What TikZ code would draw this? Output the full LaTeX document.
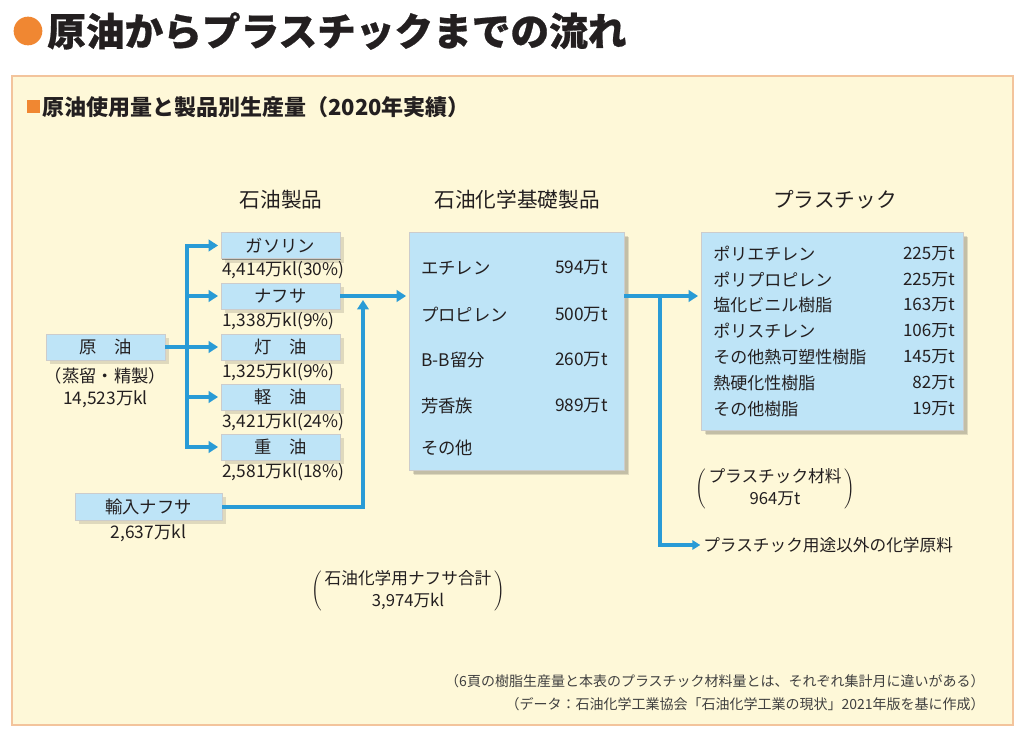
\documentclass[tikz,border=0pt]{standalone}
\usepackage{fontspec}
\setmainfont{Noto Sans CJK JP}
\usepackage{tikz}
\usetikzlibrary{arrows.meta,shapes,shadows,positioning}
\definecolor{panelbg}{HTML}{FEF8D8}
\definecolor{panelline}{HTML}{F3C49C}
\definecolor{boxblue}{HTML}{BEE4F7}
\definecolor{flowblue}{HTML}{299BD6}
\definecolor{mark}{HTML}{F08732}
\definecolor{ink}{HTML}{231F20}
\tikzstyle{pbox}=[rectangle,fill=boxblue,draw=black!20,line width=0.4pt,inner sep=0pt,
  minimum width=89.25pt,minimum height=19.5pt,font=\fontsize{13}{13}\selectfont,
  drop shadow={shadow xshift=3pt,shadow yshift=-3pt,fill=black,opacity=0.12},
  drop shadow={shadow xshift=1pt,shadow yshift=-1pt,fill=black!70,opacity=0.6}]
\tikzstyle{val}=[inner sep=1pt,font=\fontsize{13}{13}\selectfont]
\tikzstyle{item}=[inner sep=0pt,font=\fontsize{13}{13}\selectfont]
\tikzstyle{head}=[font=\fontsize{15.5}{15.5}\selectfont]
\tikzstyle{note}=[align=center,font=\fontsize{12.5}{16.5}\selectfont]
\tikzstyle{arr}=[draw=flowblue,line width=3pt,-{Triangle[length=7pt,width=8.5pt]},shorten >=2pt]
\tikzstyle{flow}=[draw=flowblue,line width=3pt]

\begin{document}
\begin{tikzpicture}[x=0.75pt,y=-0.75pt,text=ink]
    \useasboundingbox (0,0) rectangle (1026,742);
    % title
    \node[circle,fill=mark,minimum size=21.5pt,inner sep=0pt] (dot) at (28,31) {};
    \node[anchor=west,inner sep=0pt,font=\bfseries\fontsize{29}{29}\selectfont\addfontfeature{FakeBold=0.7}] (title) at (47,31) {原油からプラスチックまでの流れ};
    % panel
    \path[fill=panelbg,draw=panelline,line width=1.5pt] (12,76) rectangle (1013,725);
    \node[fill=mark,minimum size=9.75pt,inner sep=0pt] (sq) at (33.5,106.5) {};
    \node[anchor=west,inner sep=0pt,font=\bfseries\fontsize{16.5}{16.5}\selectfont] (sub) at (42,107) {原油使用量と製品別生産量（2020年実績）};
    % column heads
    \node[head] (h1) at (281,200) {石油製品};
    \node[head] (h2) at (517,200) {石油化学基礎製品};
    \node[head] (h3) at (835,200) {プラスチック};

    % crude oil and oil products
    \node[pbox] (genyu) at (105.5,347) {原　油};
    \node[note,anchor=north,font=\fontsize{13}{16.5}\selectfont] (genyuv) at ([yshift=-2pt]genyu.south) {（蒸留・精製）\\14,523万kl};
    \foreach \name/\ypos/\lab/\val in {{gas/245.5/ガソリン/4,414万kl(30\%)},
    {naf/296/ナフサ/1,338万kl(9\%)}, {toyu/347/灯　油/1,325万kl(9\%)},
    {keiyu/397/軽　油/3,421万kl(24\%)}, {juyu/447/重　油/2,581万kl(18\%)}}
    {
        \node[pbox] (\name) at (280.5,\ypos) {\lab};
        \node[val,anchor=north west] (\name v) at ([yshift=-1pt]\name.south west) {\val};
    }
    \node[pbox,minimum width=110.25pt,minimum height=20.25pt] (yunyu) at (148.5,506.5) {輸入ナフサ};
    \node[val,anchor=north] (yunyuv) at ([yshift=-2pt]yunyu.south) {2,637万kl};

    % basic chemicals
    \node[pbox,minimum width=161.25pt,minimum height=178.5pt,
      drop shadow={shadow xshift=4pt,shadow yshift=-4pt,fill=black,opacity=0.12}] (kiso) at (516.5,351) {};
    \foreach \ypos/\lab/\val in {268/エチレン/594万t, 315/プロピレン/500万t,
    360/B-B留分/260万t, 406/芳香族/989万t}
    {
        \node[item,anchor=west] (k\ypos) at (421,\ypos) {\lab};
        \node[item,anchor=east] (kv\ypos) at (608,\ypos) {\val};
    }
    \node[item,anchor=west] (kother) at (421,448) {その他};

    % plastics
    \node[pbox,minimum width=196.5pt,minimum height=148.5pt,
      drop shadow={shadow xshift=4pt,shadow yshift=-4pt,fill=black,opacity=0.12}] (plas) at (832,331) {};
    \foreach \ypos/\lab/\val in {254/ポリエチレン/225万t, 280/ポリプロピレン/225万t,
    305/塩化ビニル樹脂/163万t, 331/ポリスチレン/106万t, 357/その他熱可塑性樹脂/145万t,
    383/熱硬化性樹脂/82万t, 409/その他樹脂/19万t}
    {
        \node[item,anchor=west,font=\fontsize{12.75}{12.75}\selectfont] (p\ypos) at (713,\ypos) {\lab};
        \node[item,anchor=east,font=\fontsize{12.75}{12.75}\selectfont] (pv\ypos) at (955,\ypos) {\val};
    }

    % notes
    \node[note] (pnote) at (775,489) {$\left(\,\begin{tabular}{@{}c@{}}プラスチック材料\\964万t\end{tabular}\,\right)$};
    \node[note] (nnote) at (408,591) {$\left(\,\begin{tabular}{@{}c@{}}石油化学用ナフサ合計\\3,974万kl\end{tabular}\,\right)$};
    \node[item,anchor=west,font=\fontsize{12.5}{12.5}\selectfont] (other) at (703,545) {プラスチック用途以外の化学原料};
    \node[item,anchor=east,text=black!75,font=\fontsize{10.5}{10.5}\selectfont] (fn1) at (985,681) {（6頁の樹脂生産量と本表のプラスチック材料量とは、それぞれ集計月に違いがある）};
    \node[item,anchor=east,text=black!75,font=\fontsize{10.5}{10.5}\selectfont] (fn2) at (985,704) {（データ：石油化学工業協会「石油化学工業の現状」2021年版を基に作成）};

    % connectors
    \coordinate (br) at (187,347);
    \coordinate (nj) at (363,300);
    \coordinate (pj) at (660,296);
    \draw[arr] (genyu.east) -- (toyu.west);
    \draw[arr,{Triangle[length=7pt,width=8.5pt]}-{Triangle[length=7pt,width=8.5pt]},shorten <=2pt]
      (gas.west) -- (gas.west -| br) -- (juyu.west -| br) -- (juyu.west);
    \foreach \name in {naf,keiyu}
        \draw[arr] (\name.west -| br) -- (\name.west);
    \draw[arr,shorten >=0pt] (yunyu.east) -| (nj);
    \draw[arr] (naf.east) -- (kiso.west |- naf);
    \draw[arr] (kiso.east |- naf) -- (plas.west |- naf);
    \draw[arr,-{Triangle[length=6pt,width=7pt]}] (pj) |- (other.west);
\end{tikzpicture}
\end{document}
